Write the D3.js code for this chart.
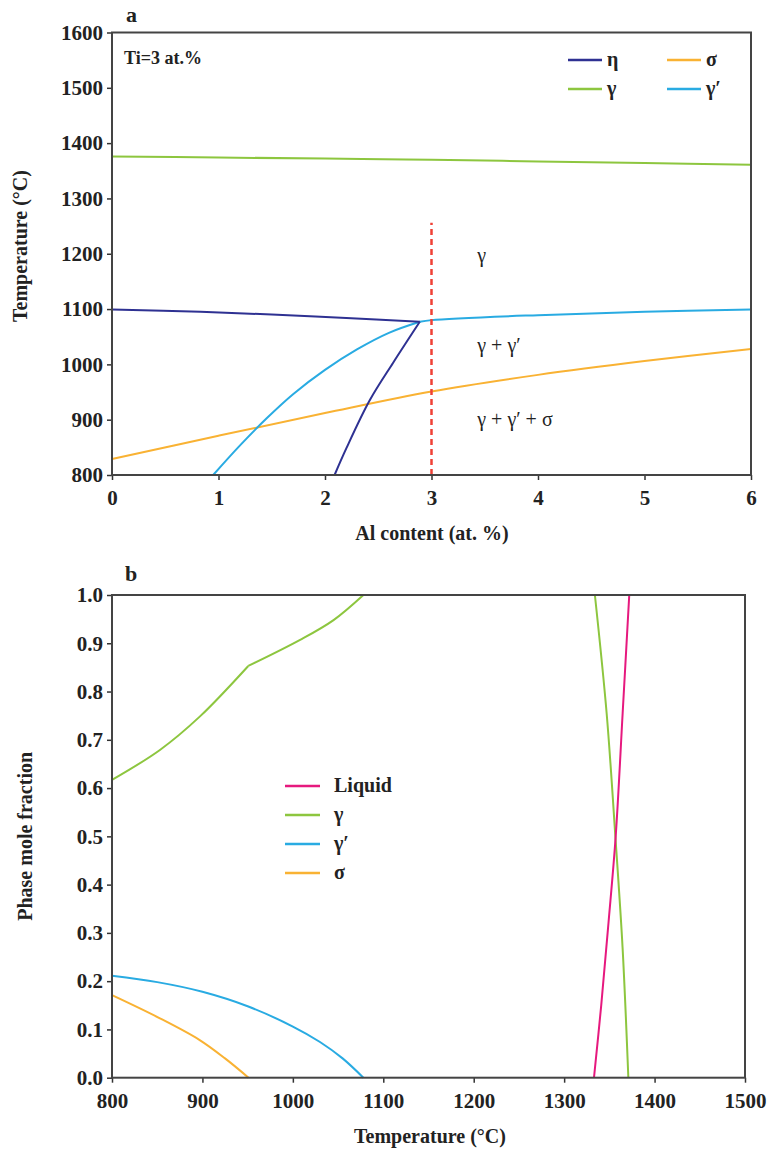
<!DOCTYPE html>
<html>
<head>
<meta charset="utf-8">
<script src="https://cdn.jsdelivr.net/npm/d3@7"></script>
<style>
    body { margin: 0; background: #fff; }
    svg text { font-family: "Liberation Serif", "Times New Roman", Tinos, "DejaVu Serif", serif; fill: #222; }
</style>
</head>
<body>
<svg id="chart" width="774" height="1156"></svg>
<script>
// panel a: phase boundaries, Ti = 3 at.%
const aTicksX = [0, 1, 2, 3, 4, 5, 6];
const aTicksY = [800, 900, 1000, 1100, 1200, 1300, 1400, 1500, 1600];
const gammaSolvus = [[0, 1376], [1, 1374], [2, 1372], [3, 1370], [4, 1367], [5, 1364], [6, 1361]];
const etaUpper = [[0, 1099], [0.83, 1095], [1.5, 1090], [2.2, 1084], [2.89, 1077]];
const etaLower = [[2.09, 800], [2.2, 848], [2.42, 935], [2.64, 1003], [2.89, 1077]];
const gpLower = [[0.95, 800], [1.2, 853], [1.45, 902], [1.7, 946], [2.0, 990], [2.3, 1027], [2.6, 1057], [2.89, 1077]];
const gpUpper = [[2.89, 1077], [3, 1080], [4, 1089], [5, 1095], [6, 1099]];
const sigmaA = [[0, 829], [1, 871], [2, 912], [3, 951], [4, 981], [5, 1006], [6, 1028]];
const dashedAl = [[3, 800], [3, 1256]];

// panel b: phase mole fractions vs temperature
const bTicksX = [800, 900, 1000, 1100, 1200, 1300, 1400, 1500];
const bTicksY = [0, 0.1, 0.2, 0.3, 0.4, 0.5, 0.6, 0.7, 0.8, 0.9, 1.0];
const gammaLowA = [[800, 0.617], [853, 0.679], [897, 0.748], [950.7, 0.853]];
const gammaLowB = [[950.7, 0.853], [1008, 0.907], [1045, 0.948], [1078, 1.0]];
const gammaFull = [[1078, 1.0], [1334, 1.0]];
const gammaHigh = [[1334, 1.0], [1347, 0.755], [1357, 0.49], [1364.6, 0.27], [1371, 0]];
const liquid = [[1333, 0], [1341, 0.15], [1349, 0.32], [1357, 0.5], [1364.7, 0.755], [1372, 1.0]];
const liquidFull = [[1372, 1.0], [1500, 1.0]];
const gpB = [[800, 0.211], [850, 0.198], [900, 0.178], [950, 0.148], [1000, 0.106], [1030, 0.074], [1055, 0.04], [1078, 0]];
const sigmaB = [[800, 0.171], [853, 0.123], [897, 0.078], [925, 0.04], [951, 0]];

const colors = {
    eta: '#2e3192',
    sigma: '#f9b233',
    gamma: '#8dc63f',
    gp: '#29abe2',
    liquid: '#e6197e',
    dash: '#ef4136'
};
const serif = '"Liberation Serif", "Times New Roman", Tinos, "DejaVu Serif", serif';
const smooth = d3.curveCatmullRom.alpha(0.5);

const svg = d3.select('#chart');
svg.append('rect').attr('width', 774).attr('height', 1156).attr('fill', '#fff');

function drawAxes(g, x, y, xTicks, yTicks, xFmt, yFmt) {
    const [x0, x1] = x.range();
    const [y0, y1] = y.range();
    const xa = g.append('g').attr('transform', `translate(0,${y0})`)
        .call(d3.axisBottom(x).tickValues(xTicks).tickFormat(xFmt).tickSize(5).tickSizeOuter(0));
    const ya = g.append('g').attr('transform', `translate(${x0},0)`)
        .call(d3.axisLeft(y).tickValues(yTicks).tickFormat(yFmt).tickSize(5).tickSizeOuter(0));
    [xa, ya].forEach(a => {
        a.attr('font-family', serif);
        a.select('.domain').remove();
        a.selectAll('line').attr('stroke', '#333').attr('stroke-width', 1.5);
        a.selectAll('text').attr('font-size', 21).attr('font-weight', 'bold').attr('fill', '#222');
    });
    xa.selectAll('text').attr('dy', '1.05em');
    ya.selectAll('text').attr('dx', '-0.05em');
    g.append('rect')
        .attr('x', x0).attr('y', y1).attr('width', x1 - x0).attr('height', y0 - y1)
        .attr('fill', 'none').attr('stroke', '#444').attr('stroke-width', 2);
}

function addLine(g, data, x, y, color, curve, dash) {
    g.append('path')
        .datum(data)
        .attr('fill', 'none')
        .attr('stroke', color)
        .attr('stroke-width', dash ? 2.5 : 2)
        .attr('stroke-dasharray', dash || null)
        .attr('d', d3.line().x(d => x(d[0])).y(d => y(d[1])).curve(curve || smooth));
}

// ---------- panel a ----------
const xa = d3.scaleLinear().domain([0, 6]).range([112, 751]);
const ya = d3.scaleLinear().domain([800, 1600]).range([475, 32.5]);
const ga = svg.append('g');

addLine(ga, gammaSolvus, xa, ya, colors.gamma);
addLine(ga, sigmaA, xa, ya, colors.sigma);
addLine(ga, gpLower, xa, ya, colors.gp);
addLine(ga, gpUpper, xa, ya, colors.gp);
addLine(ga, etaUpper, xa, ya, colors.eta);
addLine(ga, etaLower, xa, ya, colors.eta);
addLine(ga, dashedAl, xa, ya, colors.dash, d3.curveLinear, '6,4');
drawAxes(ga, xa, ya, aTicksX, aTicksY, d3.format('d'), d3.format('d'));

ga.append('text').attr('x', 126).attr('y', 22).attr('font-size', 22).attr('font-weight', 'bold').text('a');
ga.append('text').attr('x', 124).attr('y', 64).attr('font-size', 18).attr('font-weight', 'bold').text('Ti=3 at.%');

ga.append('text')
    .attr('transform', 'translate(27,246) rotate(-90)')
    .attr('text-anchor', 'middle').attr('font-size', 20).attr('font-weight', 'bold')
    .text('Temperature (°C)');
ga.append('text').attr('x', 432).attr('y', 540)
    .attr('text-anchor', 'middle').attr('font-size', 20).attr('font-weight', 'bold')
    .text('Al content (at. %)');

// region labels
const regionLabels = [['γ', 3.43, 1185], ['γ + γ′', 3.43, 1022], ['γ + γ′ +  σ', 3.43, 888]];
regionLabels.forEach(([t, vx, vy]) => {
    ga.append('text').attr('x', xa(vx)).attr('y', ya(vy)).attr('font-size', 20).text(t);
});

// legend a
const legendA = [
    ['η', colors.eta, 0, 0], ['σ', colors.sigma, 1, 0],
    ['γ', colors.gamma, 0, 1], ['γ′', colors.gp, 1, 1]
];
legendA.forEach(([t, c, col, row]) => {
    const lx = 568 + col * 99, ly = 60 + row * 29;
    ga.append('line').attr('x1', lx).attr('x2', lx + 34).attr('y1', ly).attr('y2', ly)
        .attr('stroke', c).attr('stroke-width', 2.5);
    ga.append('text').attr('x', lx + 39).attr('y', ly + 6).attr('font-size', 20).attr('font-weight', 'bold').text(t);
});

// ---------- panel b ----------
const xb = d3.scaleLinear().domain([800, 1500]).range([112, 745]);
const yb = d3.scaleLinear().domain([0, 1]).range([1077.7, 595]);
const gb = svg.append('g');

addLine(gb, gammaLowA, xb, yb, colors.gamma);
addLine(gb, gammaLowB, xb, yb, colors.gamma);
addLine(gb, gammaFull, xb, yb, colors.gamma, d3.curveLinear);
addLine(gb, gammaHigh, xb, yb, colors.gamma);
addLine(gb, liquid, xb, yb, colors.liquid);
addLine(gb, liquidFull, xb, yb, colors.liquid, d3.curveLinear);
addLine(gb, gpB, xb, yb, colors.gp);
addLine(gb, sigmaB, xb, yb, colors.sigma);
drawAxes(gb, xb, yb, bTicksX, bTicksY, d3.format('d'), d3.format('.1f'));

gb.append('text').attr('x', 125).attr('y', 581).attr('font-size', 22).attr('font-weight', 'bold').text('b');
gb.append('text')
    .attr('transform', `translate(32,${(595 + 1077.7) / 2}) rotate(-90)`)
    .attr('text-anchor', 'middle').attr('font-size', 20).attr('font-weight', 'bold')
    .text('Phase mole fraction');
gb.append('text').attr('x', 430).attr('y', 1143)
    .attr('text-anchor', 'middle').attr('font-size', 20).attr('font-weight', 'bold')
    .text('Temperature (°C)');

// legend b
const legendB = [['Liquid', colors.liquid], ['γ', colors.gamma], ['γ′', colors.gp], ['σ', colors.sigma]];
legendB.forEach(([t, c], i) => {
    const ly = 786 + i * 29;
    gb.append('line').attr('x1', 285).attr('x2', 320).attr('y1', ly).attr('y2', ly)
        .attr('stroke', c).attr('stroke-width', 2.5);
    gb.append('text').attr('x', 334).attr('y', ly + 6).attr('font-size', 20).attr('font-weight', 'bold').text(t);
});
</script>
</body>
</html>
